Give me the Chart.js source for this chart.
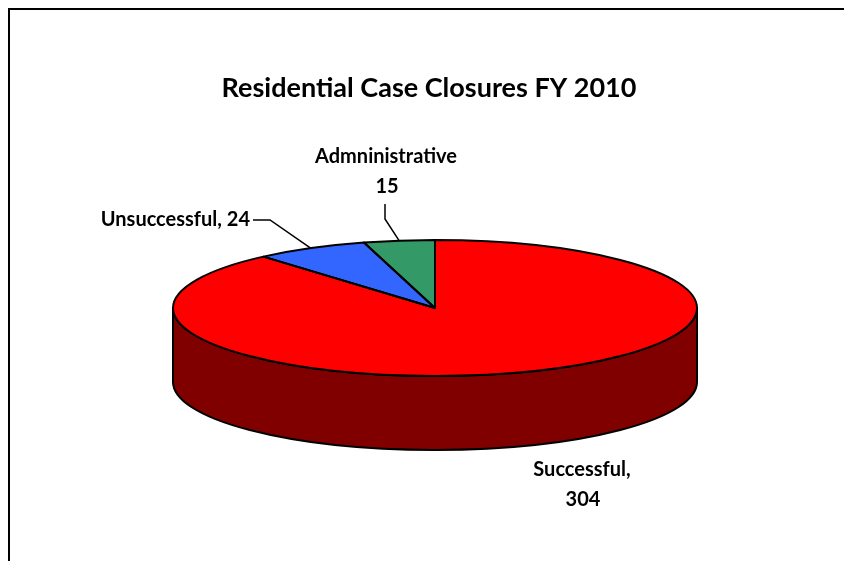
<!DOCTYPE html>
<html>
<head>
<meta charset="utf-8">
<script src="https://cdn.jsdelivr.net/npm/chart.js@4.4.1/dist/chart.umd.min.js"></script>
<style>
  html, body { margin: 0; padding: 0; background: #fff; }
</style>
</head>
<body>
<canvas id="grafico_pizza" width="844" height="561"></canvas>
<script>
const categorias = ['Successful', 'Unsuccessful', 'Admninistrative'];
const valores = [304, 24, 15];
const cores = ['#ff0000', '#3366ff', '#339966'];
const coresLado = ['#800000', '#1a3380', '#1a4d33'];

// pie seen in perspective: top ellipse centre, radii and wall height
const pizza = { cx: 435, cy: 308, rx: 262, ry: 68, altura: 74 };

const fonte = "'Lato', 'DejaVu Sans', sans-serif";

// part of [a0, a1] that falls on the front half (0..PI) of the ellipse
const parteFrente = (a0, a1) => {
  const partes = [];
  for (let k = -1; k <= 1; k++) {
    const s = Math.max(a0, k * 2 * Math.PI);
    const e = Math.min(a1, k * 2 * Math.PI + Math.PI);
    if (e > s) partes.push([s, e]);
  }
  return partes;
};

const moldura = {
  id: 'moldura',
  beforeDraw(chart) {
    const ctx = chart.ctx;
    ctx.save();
    ctx.fillStyle = '#fff';
    ctx.fillRect(0, 0, chart.width, chart.height);
    ctx.fillStyle = '#000';
    ctx.fillRect(8, 8, chart.width, 2);
    ctx.fillRect(8, 8, 2, chart.height);
    ctx.restore();
  }
};

const pizza3d = {
  id: 'pizza3d',
  beforeDatasetsDraw(chart) {
    const ctx = chart.ctx;
    const arcos = chart.getDatasetMeta(0).data;
    const { cx, cy, rx, ry, altura } = pizza;

    // side walls
    ctx.save();
    ctx.lineWidth = 2;
    ctx.strokeStyle = '#000';
    ctx.lineJoin = 'round';
    arcos.forEach((arco, i) => {
      parteFrente(arco.startAngle, arco.endAngle).forEach(([s, e]) => {
        ctx.beginPath();
        ctx.ellipse(cx, cy + altura, rx, ry, 0, s, e);
        ctx.ellipse(cx, cy, rx, ry, 0, e, s, true);
        ctx.closePath();
        ctx.fillStyle = coresLado[i];
        ctx.fill();
        ctx.stroke();
      });
    });
    ctx.restore();

    // squash the library's circle into the top ellipse
    const a = arcos[0];
    const R = a.outerRadius;
    ctx.save();
    ctx.translate(cx, cy);
    ctx.scale(rx / R, ry / R);
    ctx.translate(-a.x, -a.y);
  },
  afterDatasetsDraw(chart) {
    const ctx = chart.ctx;
    ctx.restore();
    const arcos = chart.getDatasetMeta(0).data;
    const { cx, cy, rx, ry } = pizza;
    ctx.save();
    ctx.lineWidth = 2;
    ctx.strokeStyle = '#000';
    ctx.lineJoin = 'round';
    arcos.forEach(arco => {
      ctx.beginPath();
      ctx.moveTo(cx, cy);
      ctx.ellipse(cx, cy, rx, ry, 0, arco.startAngle, arco.endAngle);
      ctx.closePath();
      ctx.stroke();
    });
    ctx.restore();
  }
};

// data labels with leader lines
const rotulos = {
  id: 'rotulos',
  afterDraw(chart) {
    const ctx = chart.ctx;
    const arcos = chart.getDatasetMeta(0).data;
    const { cx, cy, rx, ry } = pizza;
    const pontoBorda = i => {
      const m = (arcos[i].startAngle + arcos[i].endAngle) / 2;
      return [cx + rx * Math.cos(m), cy + ry * Math.sin(m)];
    };

    ctx.save();
    ctx.fillStyle = '#000';
    ctx.font = `bold 20px ${fonte}`;
    ctx.textBaseline = 'middle';

    // Successful
    ctx.textAlign = 'center';
    ctx.fillText(categorias[0] + ',', 582, 470);
    ctx.fillText(String(valores[0]), 583, 500);

    // Unsuccessful
    ctx.textAlign = 'right';
    ctx.fillText(`${categorias[1]}, ${valores[1]}`, 250, 220);

    // Admninistrative
    ctx.textAlign = 'center';
    ctx.fillText(categorias[2], 386, 157);
    ctx.fillText(String(valores[2]), 387, 187);

    ctx.strokeStyle = '#000';
    ctx.lineWidth = 1.5;
    let [px, py] = pontoBorda(1);
    ctx.beginPath();
    ctx.moveTo(253, 220);
    ctx.lineTo(270, 220);
    ctx.lineTo(px, py);
    ctx.stroke();

    [px, py] = pontoBorda(2);
    ctx.beginPath();
    ctx.moveTo(385, 204);
    ctx.lineTo(385, 219);
    ctx.lineTo(px, py);
    ctx.stroke();
    ctx.restore();
  }
};

const grafico = new Chart(document.getElementById('grafico_pizza'), {
  type: 'pie',
  data: {
    labels: categorias,
    datasets: [{
      data: valores,
      backgroundColor: cores,
      borderWidth: 0,
      clip: false
    }]
  },
  options: {
    responsive: false,
    animation: false,
    events: [],
    layout: { padding: { top: 72, left: 14, right: 0, bottom: 20 } },
    plugins: {
      legend: { display: false },
      tooltip: { enabled: false },
      title: {
        display: true,
        text: 'Residential Case Closures FY 2010',
        color: '#000',
        font: { family: fonte, size: 27, weight: 'bold', lineHeight: 1.2 },
        padding: { top: 0, bottom: 10 }
      }
    }
  },
  plugins: [moldura, pizza3d, rotulos]
});
</script>
</body>
</html>
